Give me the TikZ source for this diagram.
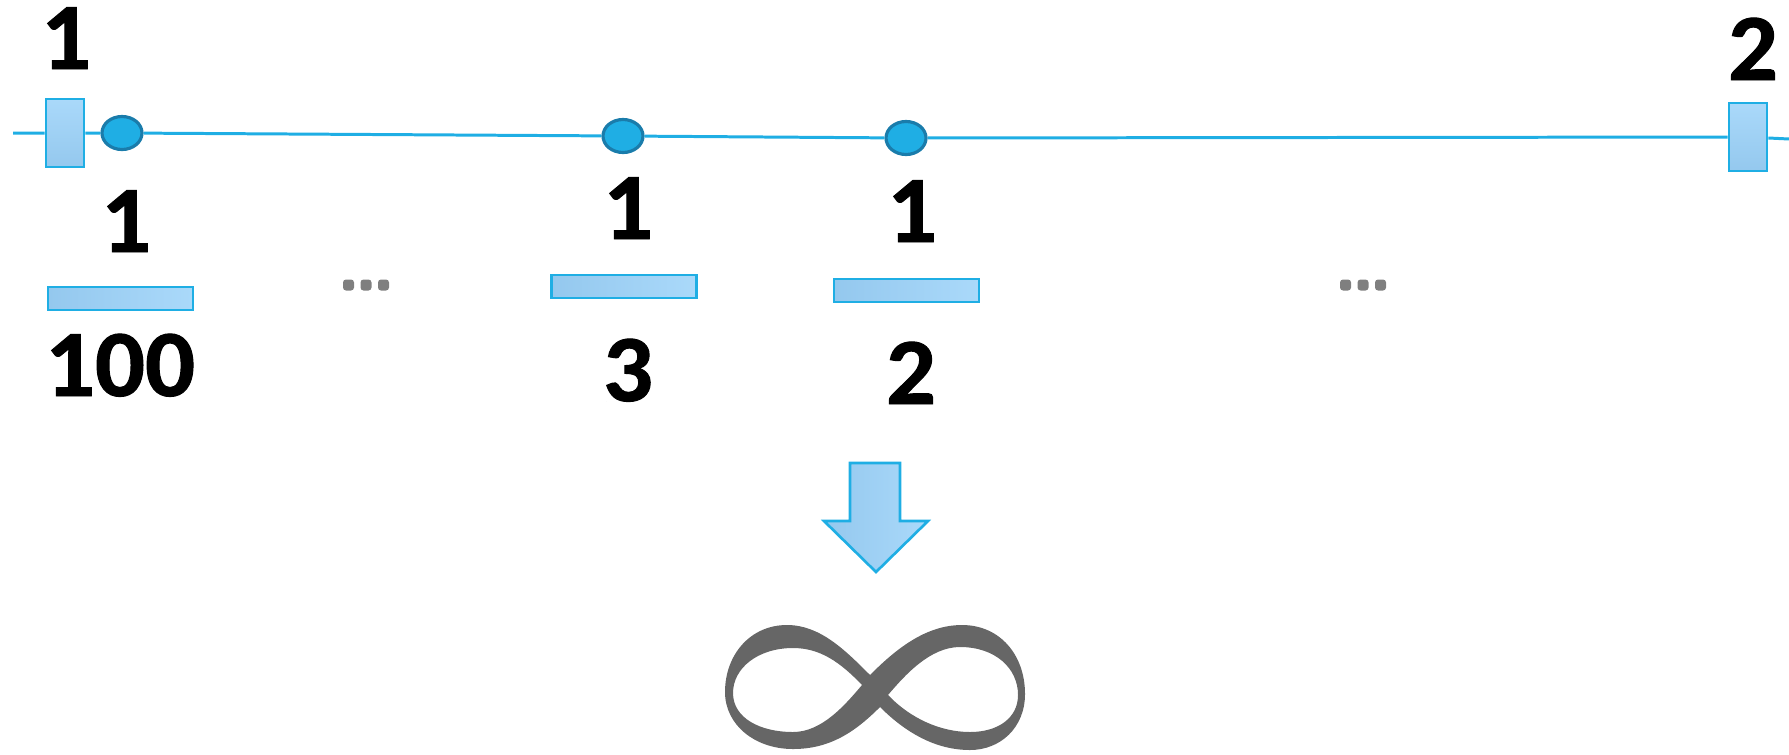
\documentclass[tikz,border=0pt]{standalone}
\usepackage{fontspec}
\setmainfont{Carlito}
\newfontfamily\numfont{Carlito}[BoldFeatures={FakeBold=1}]
\usetikzlibrary{shapes.geometric}
\definecolor{cyanline}{HTML}{1FAEE4}
\definecolor{dotedge}{HTML}{1A7CAB}
\definecolor{lightblue}{HTML}{AAD9FA}
\definecolor{midblue}{HTML}{94C8EE}
\definecolor{dotgray}{HTML}{7F7F7F}
\definecolor{infgray}{HTML}{666666}
\newcommand{\digits}[1]{\scalebox{1.04}[1]{\fontsize{27}{27}\numfont\bfseries #1}}
\tikzset{
  x=0.01cm, y=-0.01cm,
  wire/.style={draw=cyanline, line width=0.85pt},
  pin/.style={draw=cyanline, line width=0.75pt, top color=lightblue, bottom color=midblue,
    inner sep=0pt, minimum width=0.38cm, minimum height=0.68cm},
  bead/.style={ellipse, draw=dotedge, fill=cyanline, line width=0.9pt, inner sep=0pt,
    minimum width=0.40cm, minimum height=0.33cm},
  bar/.style={draw=cyanline, line width=0.75pt, left color=midblue, right color=lightblue,
    inner sep=0pt, minimum width=1.45cm, minimum height=0.23cm},
  num/.style={anchor=base, inner sep=0pt},
  ellip/.style={fill=dotgray, rounded corners=0.03cm}
}
\begin{document}
\begin{tikzpicture}
\useasboundingbox (0,0) rectangle (1789,754);

% the strand with its end pins and beads
\coordinate (lstart) at (13,133);
\coordinate (lend) at (1789,139);
\node[pin] (pinA) at (65,133) {};
\node[pin] (pinB) at (1748,137) {};
\node[bead] (b1) at (122,133) {};
\node[bead] (b2) at (623,136) {};
\node[bead] (b3) at (906,138) {};
\draw[wire] (lstart) -- (pinA) -- (b1) -- (b2) -- (b3) -- (pinB) -- (lend);

\node[num] (tA) at (66,69) {\digits{1}};
\node[num] (tB) at (1753,80) {\digits{2}};

% fractions under the strand
\node[num] (n1) at (126,252) {\digits{1}};
\node[bar] (f1) at (120.5,298.5) {};
\node[num] (d1) at (120,396) {\digits{100}};

\node[num] (n3) at (628,239) {\digits{1}};
\node[bar] (f3) at (624,286.5) {};
\node[num] (d3) at (628,401) {\digits{3}};

\node[num] (n2) at (912,242) {\digits{1}};
\node[bar] (f2) at (906.5,290.5) {};
\node[num] (d2) at (911,404) {\digits{2}};

% ellipses
\foreach \cx in {348.5,366,383.5,1345.5,1363,1380.5}
  \fill[ellip] (\cx-5.5,279.5) rectangle (\cx+5.5,290.5);

% down arrow
\draw[draw=cyanline, line width=0.75pt, left color=midblue, right color=lightblue, line join=miter]
  (850,463) -- (900,463) -- (900,521) -- (928,521) -- (876,572) -- (824,521) -- (850,521) -- cycle;

% infinity ribbon
\fill[infgray, even odd rule]
  % outer edge
  (870,675) .. controls (895,650) and (925,625) .. (962,625)
  .. controls (1000,625) and (1025,655) .. (1025,694)
  .. controls (1025,728) and (1000,750) .. (970,750)
  .. controls (935,750) and (905,732) .. (880,707)
  .. controls (855,732) and (830,749) .. (793,749)
  .. controls (755,749) and (725,725) .. (725,692)
  .. controls (725,655) and (750,625) .. (787,625)
  .. controls (820,625) and (845,650) .. (870,675) -- cycle
  % left hole
  (862,685) .. controls (840,662) and (820,648) .. (793,648)
  .. controls (758,648) and (733,668) .. (733,693)
  .. controls (733,718) and (760,732) .. (793,732)
  .. controls (822,732) and (845,705) .. (862,685) -- cycle
  % right hole
  (888,695) .. controls (905,675) and (930,647) .. (960,647)
  .. controls (995,647) and (1018,668) .. (1018,695)
  .. controls (1018,718) and (998,732) .. (970,732)
  .. controls (940,732) and (910,718) .. (888,695) -- cycle;
\end{tikzpicture}
\end{document}
